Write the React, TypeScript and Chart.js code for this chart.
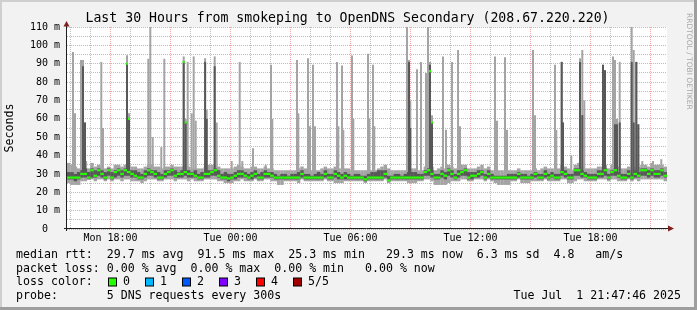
import React, { useEffect, useRef } from 'react';
import { Chart, registerables } from 'chart.js';

Chart.register(...registerables);

// ---------------- data ----------------
// time axis in hours counted from Mon 00:00
const firstHour = 15.825; // left edge of the plot (Mon 15:49:30)
const lastHour = 45.825; // right edge of the plot (Tue 21:49:30)
const columnHours = 1 / 6; // one baseline column = 10 minutes

// baseline smoke, one value per 10 minute column (ms)
const medianMs = [
  28, 28, 28, 28, 30, 30, 28, 32, 29, 32,
  30, 28, 32, 28, 31, 32, 30, 32, 31, 30,
  29, 28, 28, 30, 32, 31, 30, 28, 28, 30,
  31, 32, 29, 30, 30, 31, 30, 30, 29, 28,
  28, 30, 30, 31, 32, 29, 28, 28, 27.5, 28,
  29, 30, 30, 29, 28, 29, 30, 28, 28, 30,
  30, 29, 28, 28, 28, 28, 28, 28, 28, 28,
  30, 28, 28, 28, 28, 28, 28, 30, 28, 28,
  30, 29, 28, 29, 28, 28, 28, 28, 28, 27,
  28, 28, 28, 28, 28, 30, 26.5, 28, 28, 28,
  28, 28, 28, 28, 28, 28, 28, 31, 32, 30,
  28, 28, 30, 29, 32, 30, 28, 30, 31, 32,
  28, 29, 29, 30, 31, 28, 30, 28, 28, 28,
  28, 28, 28, 28, 28, 30, 28, 28, 28, 28,
  30, 28, 28, 30, 28, 29, 28, 28, 31, 30,
  28, 28, 32, 32, 30, 29, 28, 28, 28, 30,
  30, 32, 28, 31, 32, 29, 28, 28, 30, 28,
  30, 29, 32, 32, 30, 32, 30, 30, 32, 29,
];
const lightLoMs = [
  25, 24, 24, 24, 26, 26, 27, 27, 26, 27,
  27, 26, 27, 26, 27, 27, 26, 27, 27, 26,
  26, 26, 25, 26, 27, 27, 27, 26, 26, 27,
  27, 27, 26, 27, 27, 27, 26, 27, 26, 26,
  26, 27, 27, 27, 27, 26, 26, 25, 25, 25,
  26, 26, 27, 26, 26, 26, 27, 26, 26, 27,
  27, 26, 26, 24, 24, 26, 26, 26, 26, 25,
  27, 26, 26, 26, 26, 26, 26, 27, 26, 26,
  25, 25, 25, 26, 26, 26, 26, 26, 26, 25,
  26, 26, 26, 26, 26, 27, 25, 26, 26, 26,
  26, 26, 25, 25, 25, 26, 26, 27, 27, 26,
  24, 24, 24, 24, 25, 26, 26, 26, 27, 27,
  26, 26, 27, 27, 27, 26, 27, 26, 25, 24,
  24, 24, 24, 26, 26, 27, 25, 25, 25, 26,
  26, 26, 26, 27, 26, 26, 26, 26, 27, 27,
  25, 25, 26, 27, 27, 26, 26, 26, 26, 27,
  27, 27, 26, 27, 27, 26, 26, 26, 27, 26,
  27, 26, 27, 27, 27, 27, 27, 27, 27, 26,
];
const lightHiMs = [
  36, 35, 34, 33, 34, 37, 33, 36, 34, 35,
  34, 33, 34, 33, 35, 35, 34, 35, 36, 34,
  34, 33, 33, 34, 35, 35, 34, 34, 33, 34,
  34, 35, 34, 34, 34, 35, 34, 33, 33, 33,
  33, 34, 35, 35, 35, 34, 33, 33, 33, 33,
  34, 35, 34, 33, 33, 34, 34, 33, 33, 34,
  33, 33, 32, 32, 32, 32, 32, 32, 32, 33,
  34, 33, 32, 32, 32, 32, 33, 34, 33, 33,
  34, 33, 33, 33, 33, 32, 32, 32, 32, 32,
  32, 32, 32, 33, 34, 35, 33, 32, 32, 32,
  32, 32, 33, 33, 33, 32, 32, 34, 35, 34,
  32, 33, 34, 33, 35, 34, 33, 34, 35, 35,
  33, 33, 33, 34, 35, 33, 34, 32, 32, 32,
  32, 32, 32, 32, 32, 33, 32, 32, 32, 32,
  33, 32, 33, 34, 33, 33, 33, 33, 35, 34,
  33, 32, 35, 36, 34, 33, 33, 33, 33, 34,
  34, 35, 33, 35, 35, 34, 33, 33, 34, 33,
  34, 34, 35, 35, 34, 36, 35, 35, 35, 34,
];
const darkLoMs = [
  27, 27, 26, 27, 28, 28, 27, 28, 28, 29,
  28, 27, 29, 27, 28, 29, 28, 29, 29, 28,
  28, 27, 27, 28, 29, 29, 28, 27, 27, 28,
  29, 29, 28, 28, 28, 29, 28, 28, 28, 27,
  27, 28, 28, 29, 29, 28, 27, 27, 26, 27,
  27, 28, 28, 28, 27, 27, 28, 27, 27, 28,
  28, 28, 27, 27, 27, 27, 27, 27, 27, 27,
  28, 27, 27, 27, 27, 27, 27, 28, 27, 27,
  28, 27, 27, 27, 27, 27, 27, 27, 27, 26,
  27, 27, 27, 27, 27, 28, 26, 27, 27, 27,
  27, 27, 27, 27, 27, 27, 27, 29, 29, 28,
  27, 27, 28, 27, 29, 28, 27, 28, 29, 29,
  27, 27, 28, 28, 29, 27, 28, 27, 27, 27,
  27, 27, 27, 27, 27, 28, 27, 27, 27, 27,
  28, 27, 27, 28, 27, 28, 27, 27, 29, 28,
  27, 27, 29, 29, 28, 28, 27, 27, 27, 28,
  28, 29, 27, 29, 29, 28, 27, 27, 28, 27,
  28, 28, 29, 29, 28, 29, 28, 28, 29, 28,
];
const darkHiMs = [
  31, 31, 30, 31, 32, 33, 31, 33, 32, 33,
  32, 31, 33, 31, 32, 33, 32, 33, 32, 32,
  32, 31, 30, 32, 33, 32, 32, 31, 30, 32,
  32, 33, 32, 31, 32, 32, 32, 31, 32, 30,
  31, 31, 32, 32, 33, 32, 30, 31, 30, 30,
  31, 32, 32, 31, 30, 31, 32, 30, 31, 32,
  31, 31, 30, 29, 30, 30, 29, 30, 30, 31,
  32, 30, 30, 29, 30, 31, 30, 32, 30, 30,
  32, 31, 30, 31, 30, 29, 30, 30, 29, 29,
  30, 31, 31, 32, 32, 32, 29, 29, 30, 30,
  29, 30, 31, 31, 31, 30, 30, 32, 33, 32,
  30, 30, 32, 31, 33, 32, 30, 32, 32, 33,
  31, 31, 31, 32, 32, 30, 32, 30, 29, 29,
  29, 29, 30, 30, 30, 31, 30, 30, 29, 30,
  31, 30, 30, 32, 30, 31, 30, 30, 32, 32,
  30, 30, 33, 33, 32, 31, 30, 30, 30, 32,
  32, 33, 30, 32, 33, 31, 30, 30, 32, 30,
  32, 31, 33, 33, 32, 33, 32, 32, 33, 31,
];

// single 5 minute samples that rise above the baseline smoke
const spikeHour = [
  16.125, 16.225, 16.525, 16.625, 16.725, 17.54, 17.625, 18.825, 18.925, 19.89,
  19.99, 20.11, 20.54, 20.69, 21.66, 21.76, 21.86, 22.06, 22.16, 22.26,
  22.73, 22.81, 23.21, 23.31, 24.06, 24.46, 24.59, 25.125, 25.76, 26.025,
  26.09, 27.325, 27.39, 27.875, 27.975, 28.125, 28.225, 29.325, 29.39, 29.575,
  29.64, 30.075, 30.14, 30.875, 30.94, 31.125, 31.19, 32.825, 32.925, 32.99,
  33.325, 33.525, 33.775, 33.875, 33.975, 34.075, 34.625, 34.775, 35.075, 35.375,
  35.475, 37.225, 37.325, 37.725, 37.825, 39.125, 39.225, 40.225, 40.29, 40.56,
  40.625, 41.04, 41.475, 41.59, 41.69, 42.625, 42.725, 43.125, 43.225, 43.325,
  43.46, 44.06, 44.16, 44.29, 44.39, 44.59, 45.125, 45.54,
];
const spikeMaxMs = [
  96.4, 63, 92, 92, 58, 91, 55, 94.6, 63, 92.7,
  110, 50, 44.6, 92.7, 94, 60, 91, 63, 94, 59,
  93, 65, 94, 58, 37, 91, 37, 44, 35, 89.5,
  60, 92, 63, 93, 56, 89.5, 56, 91, 56, 89,
  54, 94.5, 60, 95.5, 60, 89.5, 56, 110.5, 92, 70,
  87, 91, 85, 110.5, 91, 62, 94, 54, 91, 97.5,
  56, 94, 59, 93.5, 54, 97.5, 62, 89.5, 54, 91,
  58, 40, 93, 97.5, 70, 89.5, 86.5, 94, 92, 60,
  91, 111, 97.5, 91, 57, 37, 37, 38,
];
// upper edge of the dark (inner pings) smoke for the spike, 0 = none
const spikeDarkMs = [
  0, 0, 0, 88.6, 58, 0, 0, 90, 60, 0,
  0, 0, 0, 0, 91, 58, 0, 0, 0, 0,
  91, 60, 88.6, 0, 0, 0, 0, 0, 0, 0,
  0, 0, 0, 0, 0, 0, 0, 0, 0, 0,
  0, 0, 0, 0, 0, 0, 0, 0, 91, 55,
  0, 0, 0, 0, 89.5, 58, 0, 0, 0, 0,
  0, 0, 0, 0, 0, 0, 0, 0, 0, 91,
  58, 0, 91, 62, 0, 89.5, 86.5, 0, 57, 57,
  58, 91, 58, 91, 57, 0, 0, 0,
];
// median of the spike sample when it left the baseline, 0 = none
const spikeMedianMs = [
  0, 0, 0, 0, 0, 0, 0, 90, 60, 0,
  0, 0, 0, 0, 91, 58, 0, 0, 0, 0,
  0, 0, 0, 0, 0, 0, 0, 0, 0, 0,
  0, 0, 0, 0, 0, 0, 0, 0, 0, 0,
  0, 0, 0, 0, 0, 0, 0, 0, 0, 0,
  0, 0, 0, 0, 86, 58, 0, 0, 0, 0,
  0, 0, 0, 0, 0, 0, 0, 0, 0, 0,
  0, 0, 0, 0, 0, 0, 0, 0, 0, 0,
  0, 0, 0, 0, 0, 0, 0, 0,
];
const spikeBaseMs = 30;

// axes
const yTickValues = [0, 5, 10, 15, 20, 25, 30, 35, 40, 45, 50, 55, 60, 65, 70, 75, 80, 85, 90, 95, 100, 105, 110];
const xGridHours = [16, 17, 18, 19, 20, 21, 22, 23, 24, 25, 26, 27, 28, 29, 30, 31, 32, 33, 34, 35, 36, 37, 38, 39, 40, 41, 42, 43, 44, 45];
const xLabelHours = [18, 24, 30, 36, 42];
const xLabels = ['Mon 18:00', 'Tue 00:00', 'Tue 06:00', 'Tue 12:00', 'Tue 18:00'];

// texts
const titleText = 'Last 30 Hours from smokeping to OpenDNS Secondary (208.67.220.220)';
const rttLine = 'median rtt:  29.7 ms avg  91.5 ms max  25.3 ms min   29.3 ms now  6.3 ms sd  4.8   am/s';
const lossLine = 'packet loss: 0.00 % avg  0.00 % max  0.00 % min   0.00 % now';
const lossColorLabel = 'loss color:';
const lossLabels = ['0', '1', '2', '3', '4', '5/5'];
const lossColors = ['#26ff00', '#00b8ff', '#0059ff', '#7e00ff', '#ff0000', '#a00000'];
const probeLine = 'probe:       5 DNS requests every 300s';
const dateText = 'Tue Jul  1 21:47:46 2025';
const watermark = 'RRDTOOL / TOBI OETIKER';

// ---------------- styles ----------------
const MONO = "'DejaVu Sans Mono', monospace";
const SANS = "'DejaVu Sans', sans-serif";
const LIGHT = '#a4a4a4';
const DARK = '#585858';
const GREEN = '#26ff00';
const GRID = 'rgba(143,143,143,0.6)';
const MGRID = 'rgba(222,80,80,0.5)';

const colHour = (i: number) => firstHour + (i + 0.5) * columnHours;

const framePlugin = {
  id: 'smokepingFrame',
  beforeDraw(chart: any) {
    const { ctx, width, height, chartArea: a } = chart;
    ctx.save();
    ctx.fillStyle = '#f2f2f2';
    ctx.fillRect(0, 0, width, height);
    ctx.fillStyle = '#ffffff';
    ctx.fillRect(a.left, a.top, a.right - a.left, a.bottom - a.top);
    ctx.fillStyle = '#cfcfcf';
    ctx.fillRect(0, 0, width, 2);
    ctx.fillRect(0, 0, 2, height);
    ctx.fillStyle = '#9e9e9e';
    ctx.fillRect(0, height - 3, width, 3);
    ctx.fillRect(width - 3, 0, 3, height);
    ctx.restore();
  },
  afterDraw(chart: any) {
    const { ctx, chartArea: a } = chart;
    ctx.save();
    // title
    ctx.fillStyle = '#000';
    ctx.font = `13.2px ${MONO}`;
    ctx.textAlign = 'center';
    ctx.textBaseline = 'middle';
    ctx.fillText(titleText, 347.5, 18.5);

    // axes
    ctx.strokeStyle = '#1f1f1f';
    ctx.lineWidth = 1;
    ctx.beginPath();
    ctx.moveTo(a.left - 0.5, a.bottom + 2);
    ctx.lineTo(a.left - 0.5, a.top - 1);
    ctx.moveTo(a.left - 3, a.bottom - 0.5);
    ctx.lineTo(a.right + 2, a.bottom - 0.5);
    ctx.stroke();
    ctx.fillStyle = '#7f1f1f';
    ctx.beginPath();
    ctx.moveTo(a.left - 3.5, a.top - 0.5);
    ctx.lineTo(a.left + 2.5, a.top - 0.5);
    ctx.lineTo(a.left - 0.5, a.top - 6);
    ctx.closePath();
    ctx.fill();
    ctx.beginPath();
    ctx.moveTo(a.right + 1, a.bottom - 3.5);
    ctx.lineTo(a.right + 1, a.bottom + 2.5);
    ctx.lineTo(a.right + 7, a.bottom - 0.5);
    ctx.closePath();
    ctx.fill();

    // legend
    ctx.fillStyle = '#000';
    ctx.font = `11.6px ${MONO}`;
    ctx.textBaseline = 'middle';
    ctx.textAlign = 'left';
    ctx.fillText(rttLine, 16, 255);
    ctx.fillText(lossLine, 16, 268.7);
    ctx.fillText(lossColorLabel, 16, 282.3);
    lossLabels.forEach((lab, k) => {
      const bx = 108.5 + k * 37;
      ctx.fillStyle = lossColors[k];
      ctx.fillRect(bx, 278, 8, 8);
      ctx.strokeStyle = '#000';
      ctx.strokeRect(bx, 278, 8, 8);
      ctx.fillStyle = '#000';
      ctx.fillText(lab, 123 + k * 37, 282.3);
    });
    ctx.fillText(probeLine, 16, 296);
    ctx.textAlign = 'right';
    ctx.fillText(dateText, 681, 296);

    // watermark
    ctx.translate(688.5, 13);
    ctx.rotate(Math.PI / 2);
    ctx.textAlign = 'left';
    ctx.fillStyle = '#a8a8a8';
    ctx.font = `7.5px ${SANS}`;
    ctx.fillText(watermark, 0, 0);
    ctx.restore();
  },
};

export default function App() {
  const ref = useRef<HTMLCanvasElement | null>(null);

  useEffect(() => {
    document.body.style.margin = '0';
    const canvas = ref.current;
    if (!canvas) return;

    const lightData = lightLoMs.map((lo, i) => ({ x: colHour(i), y: [lo, lightHiMs[i]] }));
    const darkData = darkLoMs.map((lo, i) => ({ x: colHour(i), y: [lo, darkHiMs[i]] }));
    const medianData = medianMs.map((m, i) => ({ x: colHour(i), y: [m - 0.6, m + 0.6] }));
    const spikeLight = spikeHour.map((h, i) => ({ x: h, y: [spikeBaseMs, spikeMaxMs[i]] }));
    const spikeDark = spikeHour
      .map((h, i) => ({ h, v: spikeDarkMs[i] }))
      .filter((d) => d.v > 0)
      .map((d) => ({ x: d.h, y: [spikeBaseMs, d.v] }));
    const spikeMed = spikeHour
      .map((h, i) => ({ h, v: spikeMedianMs[i] }))
      .filter((d) => d.v > 0)
      .map((d) => ({ x: d.h, y: [d.v - 0.6, d.v + 0.6] }));

    const common = { grouped: false, borderWidth: 0, inflateAmount: 0 };

    const chart = new Chart(canvas, {
      type: 'bar',
      data: {
        datasets: [
          { ...common, label: 'median', data: medianData as any, backgroundColor: GREEN, barThickness: 3.5, order: 0 },
          { ...common, label: 'median spikes', data: spikeMed as any, backgroundColor: GREEN, barThickness: 2, order: 0 },
          { ...common, label: 'inner pings', data: darkData as any, backgroundColor: DARK, barThickness: 3.5, order: 1 },
          { ...common, label: 'inner pings spikes', data: spikeDark as any, backgroundColor: DARK, barThickness: 2, order: 1 },
          { ...common, label: 'all pings', data: lightData as any, backgroundColor: LIGHT, barThickness: 3.5, order: 2 },
          { ...common, label: 'all pings spikes', data: spikeLight as any, backgroundColor: LIGHT, barThickness: 2, order: 2 },
        ],
      },
      options: {
        animation: false,
        responsive: false,
        devicePixelRatio: 1,
        events: [],
        layout: { padding: { top: 27, left: 0, right: 30, bottom: 62 } },
        plugins: {
          legend: { display: false },
          tooltip: { enabled: false },
          title: { display: false },
        },
        scales: {
          x: {
            type: 'linear',
            min: firstHour,
            max: lastHour,
            offset: false,
            z: 1,
            afterBuildTicks: (s: any) => {
              s.ticks = xGridHours.map((v) => ({ value: v }));
            },
            afterFit: (s: any) => {
              s.height = 19;
            },
            grid: {
              offset: false,
              drawTicks: false,
              lineWidth: 1,
              color: (c: any) => (c.tick && c.tick.value % 3 === 0 ? MGRID : GRID),
            },
            border: { display: false, dash: [1, 1] },
            ticks: {
              autoSkip: false,
              maxRotation: 0,
              minRotation: 0,
              padding: 3,
              color: '#000',
              font: { family: MONO, size: 10 },
              callback: (v: any) => {
                const k = xLabelHours.indexOf(Number(v));
                return k >= 0 ? xLabels[k] : '';
              },
            },
          },
          y: {
            type: 'linear',
            min: 0,
            max: 110,
            z: 1,
            afterBuildTicks: (s: any) => {
              s.ticks = yTickValues.map((v) => ({ value: v }));
            },
            afterFit: (s: any) => {
              s.width = 67;
            },
            grid: {
              drawTicks: false,
              lineWidth: 1,
              color: (c: any) => (c.tick && c.tick.value % 10 === 0 ? MGRID : GRID),
            },
            border: { display: false, dash: [1, 1] },
            ticks: {
              autoSkip: false,
              padding: 7,
              color: '#000',
              font: { family: MONO, size: 10 },
              callback: (v: any) => {
                const n = Number(v);
                if (n === 0) return '0  ';
                return n % 10 === 0 ? `${n} m` : '';
              },
            },
            title: {
              display: true,
              text: 'Seconds',
              color: '#000',
              font: { family: MONO, size: 11.6 },
              padding: { top: 3, bottom: 0 },
            },
          },
        },
      } as any,
      plugins: [framePlugin],
    });

    return () => chart.destroy();
  }, []);

  return <canvas ref={ref} width={697} height={310} style={{ display: 'block' }} />;
}
